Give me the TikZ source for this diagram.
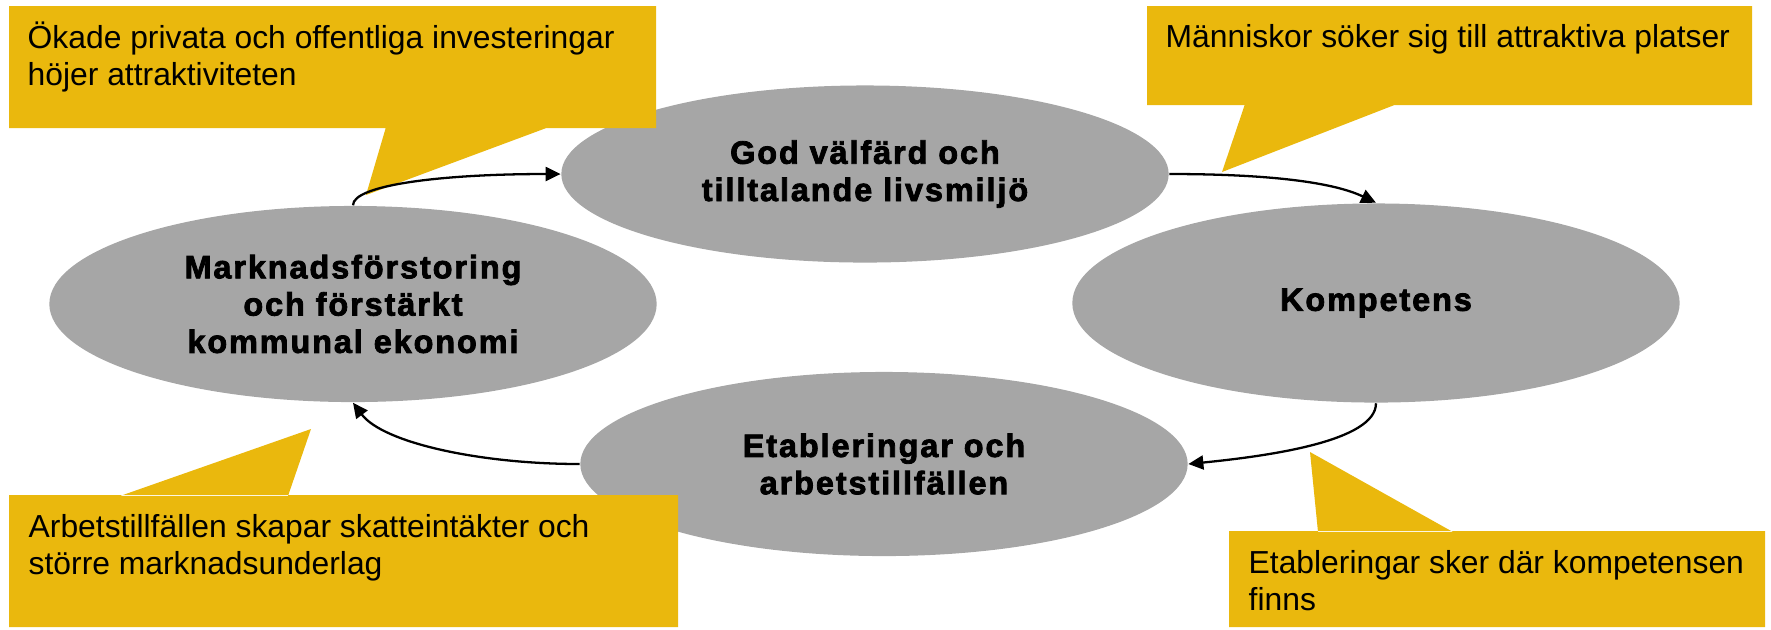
\documentclass[tikz,border=0pt]{standalone}
\usepackage{fontspec}
\setmainfont{Liberation Sans}
\newfontfamily\ellfont[LetterSpace=6,FakeBold=2.5]{Liberation Sans}
\usetikzlibrary{shapes.geometric,arrows.meta}
\definecolor{notegold}{RGB}{234,184,13}
\definecolor{ovalgray}{RGB}{166,166,166}

\begin{document}
\begin{tikzpicture}[x=0.01cm, y=-0.01cm,
    oval/.style={ellipse, fill=ovalgray, inner sep=0pt, minimum width=6.07cm, align=center,
      font=\ellfont\bfseries\fontsize{9.2}{10.6}\selectfont},
    note/.style={fill=notegold},
    notetext/.style={anchor=base west, inner sep=0pt, align=left, font=\fontsize{9.05}{10.5}\selectfont},
    cycarrow/.style={line width=0.65pt, -{Triangle[length=0.15cm, width=0.14cm]}}]

    \useasboundingbox (0,0) rectangle (1771,629);

    \node[oval, minimum height=1.77cm] (valfard) at (865,174) {God välfärd och\\tilltalande livsmiljö};
    \node[oval, minimum height=1.96cm] (marknad) at (353,304) {Marknadsförstoring\\och förstärkt\\kommunal ekonomi};
    \node[oval, minimum height=1.99cm] (kompetens) at (1376,303) {Kompetens};
    \node[oval, minimum height=1.84cm] (etablering) at (884,464) {Etableringar och\\arbetstillfällen};

    \fill[note] (9,6) rectangle (656,128) (386,127) -- (366,195) -- (549,127) -- cycle;
    \fill[note] (1147,6) rectangle (1752,105) (1245,104) -- (1222,172) -- (1397,104) -- cycle;
    \fill[note] (9,495) rectangle (678,627) (120,496) -- (311,429) -- (288,496) -- cycle;
    \fill[note] (1229,531) rectangle (1765,627) (1318,532) -- (1310,452) -- (1453,532) -- cycle;

    \node[notetext] (invest) at (27,85) {Ökade privata och offentliga investeringar\\höjer attraktiviteten};
    \node[notetext] (manniskor) at (1165,47) {Människor söker sig till attraktiva platser};
    \node[notetext] (skatt) at (28,574) {Arbetstillfällen skapar skatteintäkter och\\större marknadsunderlag};
    \node[notetext] (kompfinns) at (1248,610) {Etableringar sker där kompetensen\\finns};

    \draw[cycarrow] (marknad.north) .. controls +(0,-20) and +(-121,0) .. (valfard.west);
    \draw[cycarrow] (valfard.east) .. controls +(90,0) and +(-46,-22) .. (kompetens.north);
    \draw[cycarrow] (kompetens.south) .. controls +(0,38) and +(80,-8) .. (etablering.east);
    \draw[cycarrow] (etablering.west) .. controls +(-100,0) and +(30,40) .. (marknad.south);

\end{tikzpicture}
\end{document}
